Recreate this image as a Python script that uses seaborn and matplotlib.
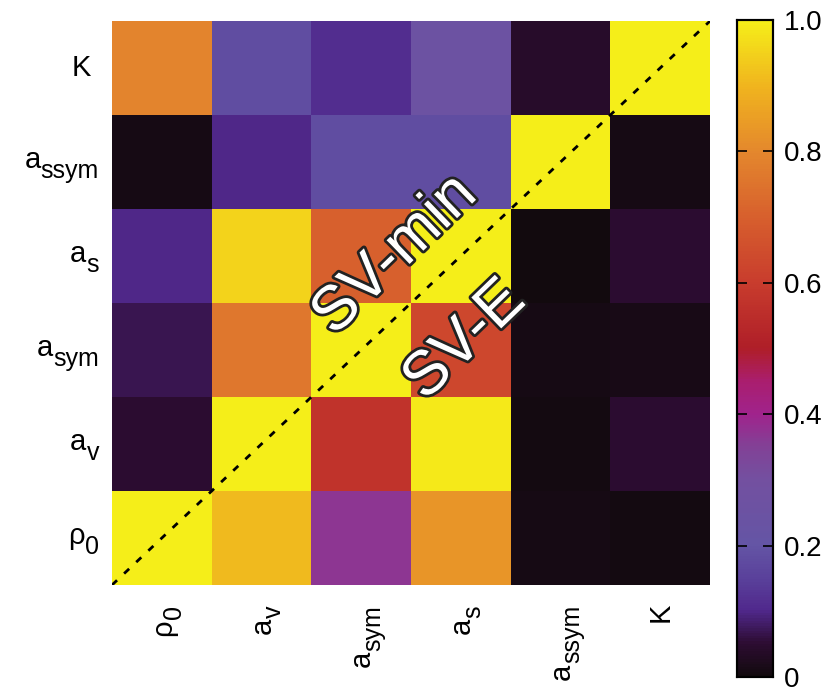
import numpy as np
import pandas as pd
import seaborn as sns
import matplotlib.pyplot as plt
import matplotlib.patheffects as pe
from matplotlib.colors import LinearSegmentedColormap
from matplotlib.transforms import offset_copy

plt.rcParams['font.family'] = ['Liberation Sans', 'DejaVu Sans']

# parameter labels (main letter + subscript), rows listed top to bottom
row_main = ['K', 'a', 'a', 'a', 'a', 'ρ']
row_sub = ['', 'ssym', 's', 'sym', 'v', '0']
col_main = ['ρ', 'a', 'a', 'a', 'a', 'K']
col_sub = ['0', 'v', 'sym', 's', 'ssym', '']

# correlation values (upper: SV-min, lower: SV-E)
row_K     = [0.79, 0.18, 0.11, 0.25, 0.04, 1.00]
row_assym = [0.01, 0.10, 0.18, 0.18, 1.00, 0.01]
row_as    = [0.10, 0.95, 0.70, 1.00, 0.00, 0.05]
row_asym  = [0.07, 0.76, 1.00, 0.63, 0.01, 0.015]
row_av    = [0.05, 1.00, 0.57, 0.99, 0.005, 0.05]
row_rho0  = [1.00, 0.91, 0.37, 0.83, 0.01, 0.005]

cbar_ticks = [0, 0.2, 0.4, 0.6, 0.8, 1.0]
cbar_ticklabels = ['0', '0.2', '0.4', '0.6', '0.8', '1.0']

data = pd.DataFrame([row_K, row_assym, row_as, row_asym, row_av, row_rho0],
                    index=[m + s for m, s in zip(row_main, row_sub)],
                    columns=[m + s for m, s in zip(col_main, col_sub)])

# palette similar to the gnuplot one in the picture
pal = [(0.00, (18, 10, 14)), (0.05, (45, 12, 50)), (0.10, (80, 40, 140)),
       (0.15, (90, 65, 155)), (0.20, (100, 85, 165)), (0.30, (115, 80, 160)),
       (0.35, (130, 65, 150)), (0.40, (160, 35, 140)), (0.45, (170, 30, 110)),
       (0.50, (175, 30, 40)), (0.60, (200, 60, 45)), (0.70, (215, 95, 45)),
       (0.80, (228, 135, 45)), (0.90, (240, 180, 30)), (1.00, (245, 238, 25))]
cmap = LinearSegmentedColormap.from_list(
    'gp', [(p, tuple(c / 255 for c in rgb)) for p, rgb in pal])

fig = plt.figure(figsize=(8.27, 6.92), dpi=100)
ax = fig.add_axes([0.1354, 0.1546, 0.7231, 0.815])
cax = fig.add_axes([0.891, 0.0217, 0.0435, 0.9494])

sns.heatmap(data, ax=ax, cmap=cmap, vmin=0, vmax=1, cbar_ax=cax)
ax.set_xticks([])
ax.set_yticks([])

# tick labels drawn by hand so the subscripts can be big like in gnuplot
main_fs, sub_fs = 21, 18
renderer = fig.canvas.get_renderer()
ytr = ax.get_yaxis_transform()
for i, (m, s) in enumerate(zip(row_main, row_sub)):
    yc = i + 0.5
    if s:
        t = ax.text(0, yc, s, fontsize=sub_fs, ha='right', va='baseline',
                    transform=offset_copy(ytr, fig=fig, x=-13, y=-16, units='dots'))
        w = t.get_window_extent(renderer).width
        ax.text(0, yc, m, fontsize=main_fs, ha='right', va='baseline',
                transform=offset_copy(ytr, fig=fig, x=-13 - w, y=-6, units='dots'))
    else:
        ax.text(0, yc, m, fontsize=main_fs, ha='right', va='center',
                transform=offset_copy(ytr, fig=fig, x=-21, units='dots'))

xtr = ax.get_xaxis_transform()
for j, (m, s) in enumerate(zip(col_main, col_sub)):
    xc = j + 0.5
    if s:
        t = ax.text(xc, 0, s, fontsize=sub_fs, rotation=90, rotation_mode='anchor',
                    ha='right', va='baseline',
                    transform=offset_copy(xtr, fig=fig, x=19, y=-20, units='dots'))
        h = t.get_window_extent(renderer).height
        ax.text(xc, 0, m, fontsize=main_fs, rotation=90, rotation_mode='anchor',
                ha='right', va='baseline',
                transform=offset_copy(xtr, fig=fig, x=9, y=-20 - h, units='dots'))
    else:
        ax.text(xc, 0, m, fontsize=main_fs, rotation=90, ha='center', va='top',
                transform=offset_copy(xtr, fig=fig, y=-18, units='dots'))

# diagonal separating the two parametrisations
ax.plot([0, 6], [6, 0], color='black', lw=2, linestyle=(0, (2.5, 3.5)))

stroke = [pe.withStroke(linewidth=4, foreground='#222222')]
ax.text(2.84, 2.49, 'SV-min', rotation=44, fontsize=45, color='white',
        ha='center', va='center', path_effects=stroke)
ax.text(3.54, 3.40, 'SV-E', rotation=44, fontsize=45, color='white',
        ha='center', va='center', path_effects=stroke)

cax.set_yticks(cbar_ticks)
cax.set_yticklabels(cbar_ticklabels)
cax.yaxis.set_ticks_position('both')
cax.tick_params(direction='in', length=7, width=1.2, labelsize=20, pad=8,
                labelleft=False, labelright=True)
for s in cax.spines.values():
    s.set_visible(True)
    s.set_linewidth(1.5)

plt.savefig('out.png')
